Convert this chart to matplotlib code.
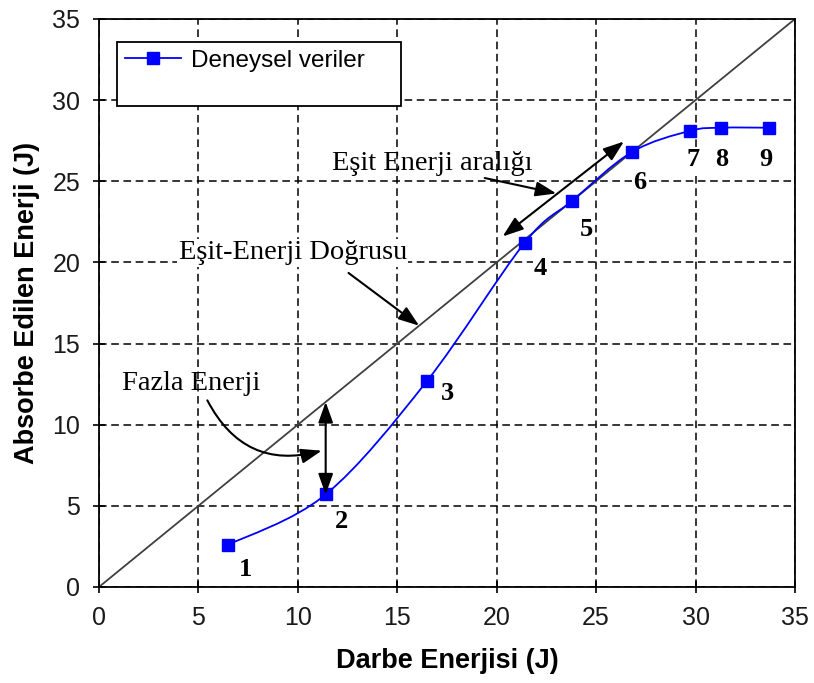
import numpy as np
import matplotlib
matplotlib.use("Agg")
import matplotlib.pyplot as plt
from matplotlib.path import Path
from matplotlib.patches import PathPatch, Rectangle
from matplotlib.lines import Line2D

# measured impact data
impact_energy = [6.5, 11.4, 16.5, 21.4, 23.8, 26.8, 29.7, 31.3, 33.7]
absorbed_energy = [2.6, 5.7, 12.7, 21.2, 23.8, 26.8, 28.1, 28.3, 28.3]
point_ids = ["1", "2", "3", "4", "5", "6", "7", "8", "9"]
id_positions = [(7.35, 1.1), (12.2, 4.05), (17.5, 11.9), (22.2, 19.65),
                (24.5, 22.05), (27.2, 24.9), (29.9, 26.35), (31.3, 26.35),
                (33.55, 26.35)]

ticks = [0, 5, 10, 15, 20, 25, 30, 35]

serif = "Liberation Serif"
sans = "Liberation Sans"
blue = "#0000ff"


def smooth_path(xs, ys):
    """Catmull-Rom style cubic Bezier through the points (like a smoothed line)"""
    pts = np.column_stack([xs, ys]).astype(float)
    padded = np.vstack([pts[0], pts, pts[-1]])
    verts = [pts[0]]
    codes = [Path.MOVETO]
    for i in range(len(pts) - 1):
        p0, p1, p2, p3 = padded[i], padded[i + 1], padded[i + 2], padded[i + 3]
        verts += [p1 + (p2 - p0) / 6, p2 - (p3 - p1) / 6, p2]
        codes += [Path.CURVE4] * 3
    return Path(verts, codes)


fig = plt.figure(figsize=(8.14, 6.83), dpi=100)
ax = fig.add_axes([0.1216, 0.1406, 0.855, 0.8316])

ax.set_xlim(0, 35)
ax.set_ylim(0, 35)
ax.set_xticks(ticks)
ax.set_yticks(ticks)
ax.grid(True, color="black", lw=1.1, ls=(0, (5, 3)), zorder=0.5)
ax.set_axisbelow(True)
for sp in ax.spines.values():
    sp.set_linewidth(1.3)
    sp.set_color("black")
ax.tick_params(direction="inout", length=9, width=1.2, labelsize=18, pad=9)
for lab in ax.get_xticklabels() + ax.get_yticklabels():
    lab.set_fontfamily(sans)
    lab.set_color("#1a1a1a")

ax.set_xlabel("Darbe Enerjisi (J)", fontfamily=sans, fontweight="bold",
              fontsize=19.5, labelpad=13)
ax.set_ylabel("Absorbe Edilen Enerji (J)", fontfamily=sans, fontweight="bold",
              fontsize=19.5, labelpad=9)

# equal-energy line
ax.plot([0, 35], [0, 35], color="#404040", lw=1.3, zorder=2)

# experimental curve
ax.add_patch(PathPatch(smooth_path(impact_energy, absorbed_energy), fill=False,
                       edgecolor=blue, lw=1.3, zorder=3))
ax.plot(impact_energy, absorbed_energy, ls="none", marker="s", ms=8.5,
        color=blue, zorder=3.5)

for label, (lx, ly) in zip(point_ids, id_positions):
    ax.text(lx, ly, label, fontfamily=serif, fontweight="bold", fontsize=19,
            ha="center", va="center", zorder=5,
            bbox=dict(fc="white", ec="none", pad=0.5))

arrow = dict(arrowstyle="-|>,head_length=0.7,head_width=0.25", color="black",
             lw=1.5, mutation_scale=18, shrinkA=0, shrinkB=0)
double = dict(arrowstyle="<|-|>,head_length=0.7,head_width=0.25", color="black",
              lw=1.5, mutation_scale=18, shrinkA=0, shrinkB=0)

# excess energy at point 2
x2, y2 = impact_energy[1], absorbed_energy[1]
ax.annotate("", xy=(x2, y2), xytext=(x2, x2), arrowprops=double, zorder=4)
ax.text(4.65, 12.55, "Fazla Enerji", fontfamily=serif, fontsize=20.5,
        ha="center", va="center", zorder=5)
ax.annotate("", xy=(11.2, 8.4), xytext=(5.45, 11.5), zorder=4,
            arrowprops=dict(arrow, connectionstyle="arc3,rad=0.4"))

ax.text(9.75, 20.6, "Eşit-Enerji Doğrusu", fontfamily=serif, fontsize=20.5,
        ha="center", va="center", zorder=5,
        bbox=dict(fc="white", ec="none", pad=1))
ax.annotate("", xy=(16.1, 16.1), xytext=(12.55, 19.35), arrowprops=arrow, zorder=4)

ax.text(16.75, 26.1, "Eşit Enerji aralığı", fontfamily=serif, fontsize=20.5,
        ha="center", va="center", zorder=5)
ax.annotate("", xy=(26.4, 27.45), xytext=(20.3, 21.6), arrowprops=double, zorder=4)
ax.annotate("", xy=(23.0, 24.25), xytext=(19.4, 25.2), arrowprops=arrow, zorder=4)

# legend box
ax.add_patch(Rectangle((0.026, 0.847), 0.408, 0.113, transform=ax.transAxes,
                       fc="white", ec="black", lw=1.3, zorder=6))
handle = Line2D([], [], color=blue, lw=1.3, marker="s", ms=8.5)
leg = ax.legend([handle], ["Deneysel veriler"], loc="upper left",
                bbox_to_anchor=(0.038, 0.946), frameon=False, borderpad=0,
                borderaxespad=0, handlelength=2.3, handletextpad=0.4,
                prop={"family": sans, "size": 17.5})
leg.set_zorder(7)

fig.savefig("out.png", dpi=100)
